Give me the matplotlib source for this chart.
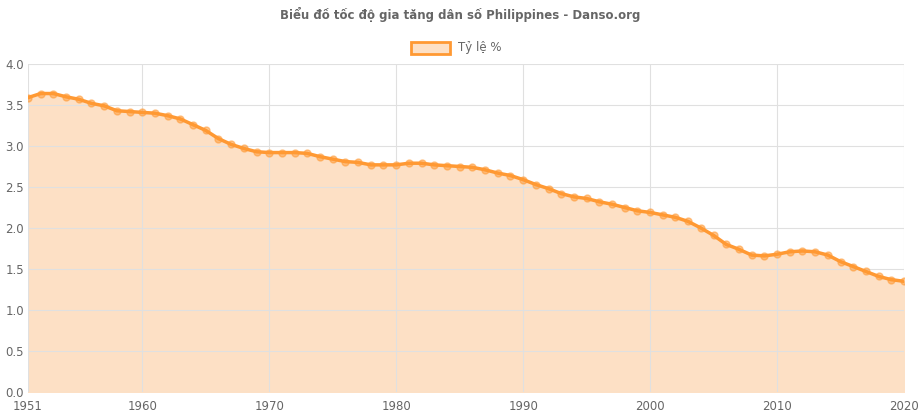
import matplotlib
matplotlib.use("Agg")
import matplotlib.pyplot as plt
from matplotlib.patches import Rectangle

years = list(range(1951, 2021))
rates = [3.59,3.64,3.64,3.60,3.57,3.52,3.49,3.43,3.42,3.41,
         3.40,3.37,3.33,3.26,3.19,3.09,3.02,2.97,2.93,2.92,
         2.92,2.92,2.91,2.87,2.84,2.81,2.80,2.77,2.77,2.77,
         2.79,2.79,2.77,2.76,2.75,2.74,2.71,2.67,2.64,2.59,
         2.53,2.48,2.42,2.38,2.36,2.32,2.29,2.25,2.21,2.19,
         2.16,2.13,2.08,2.00,1.91,1.80,1.74,1.67,1.66,1.68,
         1.71,1.72,1.71,1.67,1.59,1.53,1.47,1.41,1.37,1.35]
xticks = [1951,1960,1970,1980,1990,2000,2010,2020]
yticks = [0,0.5,1.0,1.5,2.0,2.5,3.0,3.5,4.0]

W, H = 921, 420
fig = plt.figure(figsize=(W/100, H/100), dpi=100)
ax = fig.add_axes([28/W, 1-392/H, (904-28)/W, (392-64)/H])
orange = "#ff9933"
ax.fill_between(years, rates, 0, color="#fde0c5", zorder=1)
ax.plot(years, rates, color=orange, lw=2.5, zorder=3)
ax.plot(years, rates, 'o', ms=5, color=orange, alpha=0.55, mec=orange, zorder=4)
ax.set_xlim(1951, 2020)
ax.set_ylim(0, 4.0)
ax.set_xticks(xticks)
ax.set_yticks(yticks)
ax.set_yticklabels([f"{v:.1f}" for v in yticks])
ax.grid(True, color="#e0e0e0", lw=0.8, zorder=0)
for s in ax.spines.values():
    s.set_visible(False)
ax.tick_params(length=0, colors="#666666", labelsize=8.5, pad=6)
ax.tick_params(axis='y', pad=3)
fig.text(0.5, 1-15/H, "Biểu đồ tốc độ gia tăng dân số Philippines - Danso.org",
         ha="center", va="center", fontsize=8.5, fontweight="bold", color="#666666")
fig.patches.append(Rectangle((411/W, 1-54/H), 39/W, 12/H, transform=fig.transFigure,
                             facecolor="#fde0c5", edgecolor=orange, lw=2))
fig.text(458/W, 1-47/H, "Tỷ lệ %", ha="left", va="center", fontsize=8.5, color="#666666")
fig.savefig("out.png", dpi=100)
